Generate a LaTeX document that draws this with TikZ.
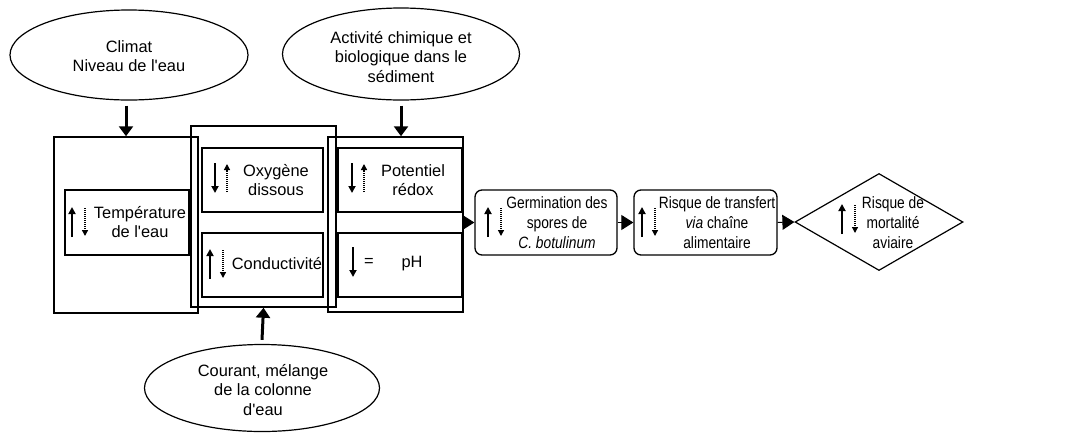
\documentclass[tikz,border=0pt]{standalone}
\usepackage{fontspec}
\setmainfont{Liberation Sans}[Ligatures=TeXOff]
\newfontfamily\etroite{Liberation Sans}[Ligatures=TeXOff,FakeStretch=0.84]
\usetikzlibrary{shapes.geometric,arrows.meta}

\begin{document}
\begin{tikzpicture}[x=1pt,y=-1pt]
    \tikzstyle{every node}=[font=\fontsize{16.4}{19.5}\selectfont]
    \tikzstyle{bulle}=[draw,ellipse,line width=1.2pt,inner sep=0pt]
    \tikzstyle{cadre}=[draw,line width=1.5pt,inner sep=0pt]
    \tikzstyle{etape}=[draw,line width=1.3pt,rounded corners=7pt,inner sep=0pt,minimum width=142pt,minimum height=65pt]
    \tikzstyle{texte}=[align=center,inner sep=0pt]
    \tikzstyle{petit}=[align=center,inner sep=0pt,font=\etroite\fontsize{16.4}{20}\selectfont]
    \tikzstyle{fleche}=[line width=3pt,-{Triangle[length=10pt,width=14pt]}]
    \tikzstyle{pointe}=[line width=1pt,-{Triangle[length=12pt,width=15pt]}]
    \tikzstyle{plein}=[line width=1.9pt,-{Triangle[length=7pt,width=7pt]}]
    \tikzstyle{pointille}=[line width=1.3pt,dash pattern=on 1pt off 1pt,-{Triangle[length=6pt,width=6pt]}]
    \useasboundingbox (0,0) rectangle (1081,432);
    \node[bulle,minimum width=238pt,minimum height=90pt] (climat) at (129,55) {};
    \node[texte] (climat-t) at (129,56) {Climat\\Niveau de l'eau};
    \node[bulle,minimum width=237pt,minimum height=92pt] (sediment) at (401,54) {};
    \node[texte] (sediment-t) at (401,57) {Activité chimique et\\biologique dans le\\sédiment};
    \node[bulle,minimum width=235pt,minimum height=87pt] (courant) at (262,388) {};
    \node[texte] (courant-t) at (263,390) {Courant, mélange\\de la colonne\\d'eau};
    \node[cadre,minimum width=144pt,minimum height=176pt] (zone1) at (126,225) {};
    \node[cadre,minimum width=145pt,minimum height=181pt] (zone2) at (263.5,216.5) {};
    \node[cadre,minimum width=135pt,minimum height=175pt] (zone3) at (395.5,224.5) {};
    \node[cadre,minimum width=124pt,minimum height=65pt] (temp) at (127,222.5) {};
    \node[texte] (temp-t) at (140,222) {Température\\de l'eau};
    \node[cadre,minimum width=121pt,minimum height=64pt] (oxy) at (262.5,180) {};
    \node[texte] (oxy-t) at (276,180) {Oxygène\\dissous};
    \node[cadre,minimum width=121pt,minimum height=64pt] (cond) at (262.5,265) {};
    \node[texte] (cond-t) at (277,264) {Conductivité};
    \node[cadre,minimum width=124pt,minimum height=64pt] (redox) at (400,180) {};
    \node[texte] (redox-t) at (413,180) {Potentiel\\rédox};
    \node[cadre,minimum width=124pt,minimum height=64pt] (ph) at (400,265) {};
    \node[texte] (ph-t) at (412,264) {pH};
    \node[texte] (egal) at (369,262) {=};
    \node[etape] (germ) at (546,222.5) {};
    \node[petit] (germ-t) at (557,223) {Germination des\\spores de\\\textit{C. botulinum}};
    \node[etape,minimum width=143pt] (transfert) at (705.5,222.5) {};
    \node[petit] (transfert-t) at (717,223) {Risque de transfert\\\textit{via} chaîne\\alimentaire};
    \node[draw,diamond,line width=1.2pt,inner sep=0pt,minimum width=168pt,minimum height=97pt] (mort) at (879,222) {};
    \node[petit] (mort-t) at (893,223) {Risque de\\mortalité\\aviaire};
    \draw[fleche] (zone1.north |- climat.south) ++(0,5) -- (zone1.north);
    \draw[fleche] (sediment.south) ++(0,5) -- (sediment.south |- zone3.north);
    \draw[fleche] (courant.north) ++(0,-4) -- (zone2.south);
    \draw[pointe] (zone3.east |- germ.west) -- (germ.west);
    \draw[pointe] (germ.east) -- (transfert.west);
    \draw[pointe] (transfert.east) -- (mort.west);
    \foreach \x/\y in {72/222, 210/264, 488/222, 642/222, 842/219} {
        \draw[plein] (\x,\y+15) -- (\x,\y-15);
        \draw[pointille] (\x+13,\y-14) -- (\x+13,\y+14);
    }
    \foreach \x/\y in {215/178, 352/178} {
        \draw[plein] (\x,\y-15) -- (\x,\y+15);
        \draw[pointille] (\x+12,\y+14) -- (\x+12,\y-14);
    }
    \draw[plein] (353,247) -- (353,277);
\end{tikzpicture}
\end{document}
